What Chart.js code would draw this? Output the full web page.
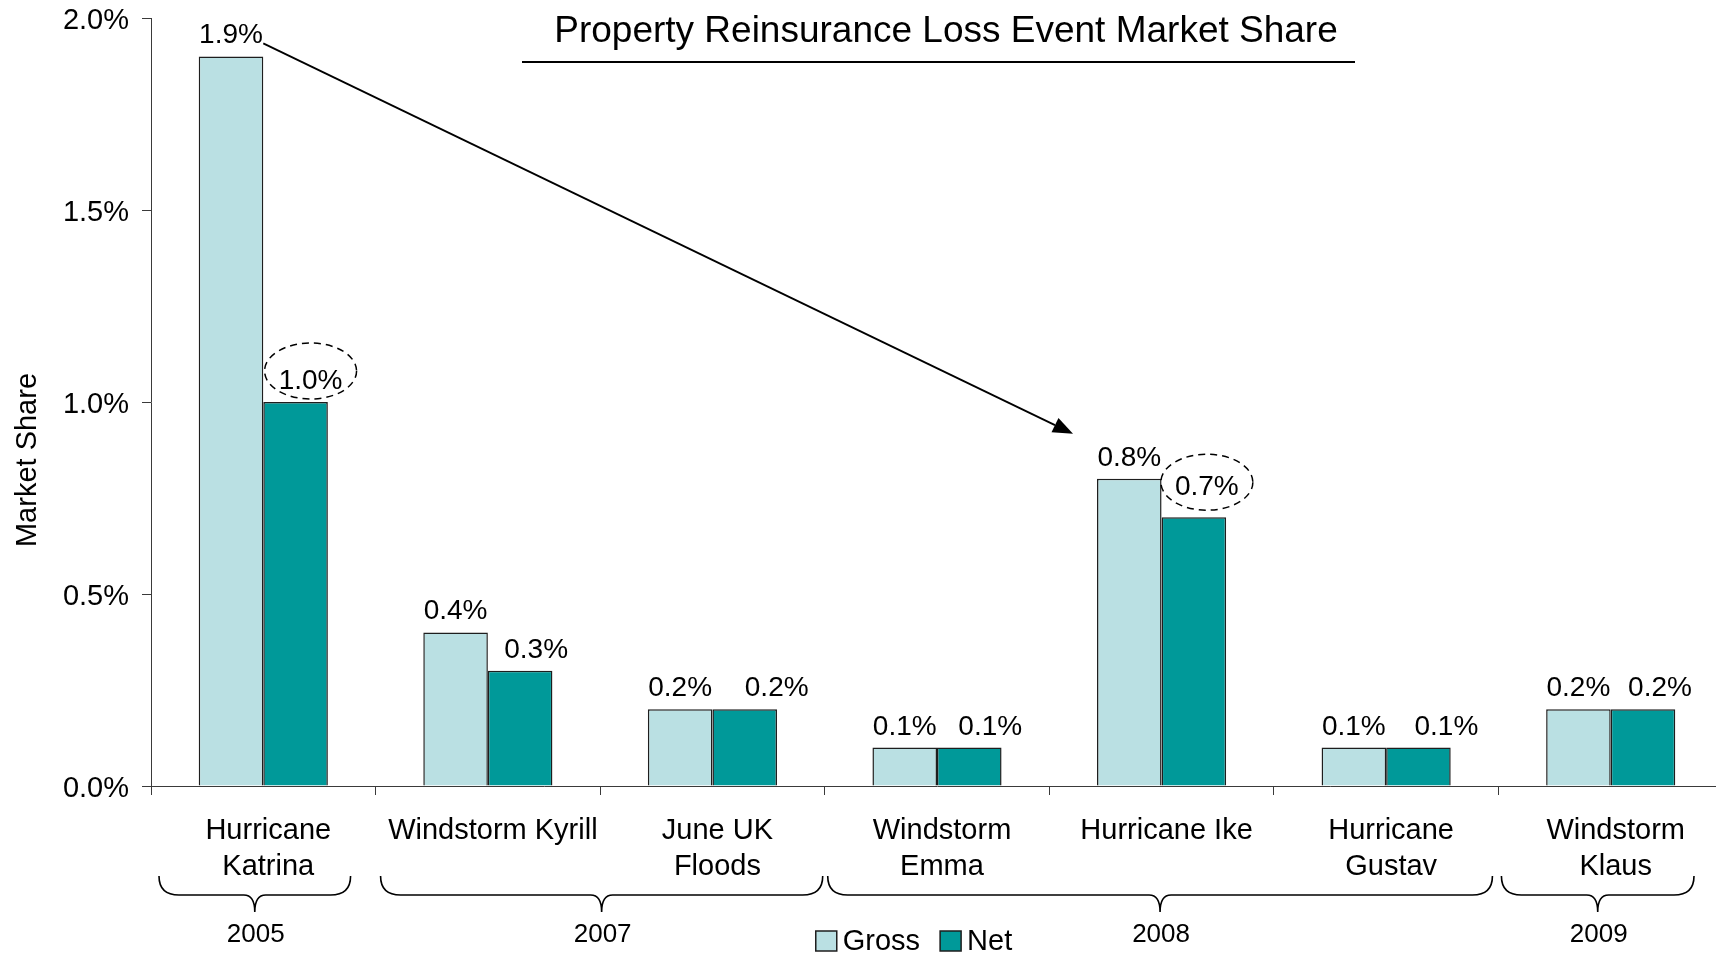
<!DOCTYPE html>
<html><head><meta charset="utf-8">
<script src="https://cdn.jsdelivr.net/npm/chart.js@4.4.1/dist/chart.umd.min.js"></script>
<style>html,body{margin:0;padding:0;background:#fff;overflow:hidden}#wrap{width:1716px;height:959px;position:relative;overflow:hidden}</style>
</head><body><div id="wrap"><canvas id="c" width="1723" height="959"></canvas></div>
<script>
const categories = [['Hurricane','Katrina'], 'Windstorm Kyrill', ['June UK','Floods'], ['Windstorm','Emma'], 'Hurricane Ike', ['Hurricane','Gustav'], ['Windstorm','Klaus']];
const grossShare = [1.9, 0.4, 0.2, 0.1, 0.8, 0.1, 0.2];
const netShare = [1.0, 0.3, 0.2, 0.1, 0.7, 0.1, 0.2];
const yearLabels = ['2005', '2007', '2008', '2009'];
const eventsPerYear = [1, 2, 3, 1];
const circledNet = [0, 4];
const arrowFrom = 0, arrowTo = 4;
const chartTitle = 'Property Reinsurance Loss Event Market Share';
const yTitle = 'Market Share';
const seriesNames = ['Gross', 'Net'];

const FONT = '"Liberation Sans", Arial, Helvetica, sans-serif';
const GROSS_COLOR = '#BAE0E3';
const NET_COLOR = '#009999';
const EDGE = '#1e1e1e';
const AXIS = '#3a3a3a';

const extras = {
  id: 'extras',
  afterDatasetsDraw(chart, args, opts) {
    const ctx = chart.ctx;
    const xs = chart.scales.x;
    const g = chart.getDatasetMeta(0).data;
    const n = chart.getDatasetMeta(1).data;
    ctx.save();
    ctx.fillStyle = '#000';
    ctx.strokeStyle = '#000';
    // value labels
    ctx.font = '28px ' + FONT;
    ctx.textAlign = 'center';
    ctx.textBaseline = 'alphabetic';
    g.forEach((b, i) => ctx.fillText(grossShare[i].toFixed(1) + '%', b.x, b.y - 13));
    n.forEach((b, i) => ctx.fillText(netShare[i].toFixed(1) + '%', b.x + opts.netShift[i], b.y - 13 - opts.netLift[i]));
    // dashed ellipses
    ctx.setLineDash([7, 5]);
    ctx.lineWidth = 1.5;
    circledNet.forEach((i, k) => {
      const b = n[i];
      ctx.beginPath();
      ctx.ellipse(b.x + opts.netShift[i], b.y - opts.ellipseLift[k], 46, 28, 0, 0, Math.PI * 2);
      ctx.stroke();
    });
    ctx.setLineDash([]);
    // arrow
    const a = g[arrowFrom], z = g[arrowTo];
    const x0 = a.x + a.width / 2, y0 = a.y - 13;
    const x1 = z.x - z.width / 2 - 24, y1 = z.y - 45;
    const ang = Math.atan2(y1 - y0, x1 - x0);
    const hl = 20, hw = 8;
    const bx = x1 - hl * Math.cos(ang), by = y1 - hl * Math.sin(ang);
    ctx.lineWidth = 1.8;
    ctx.beginPath(); ctx.moveTo(x0, y0); ctx.lineTo(bx, by); ctx.stroke();
    ctx.beginPath();
    ctx.moveTo(x1, y1);
    ctx.lineTo(bx + hw * Math.sin(ang), by - hw * Math.cos(ang));
    ctx.lineTo(bx - hw * Math.sin(ang), by + hw * Math.cos(ang));
    ctx.closePath(); ctx.fill();
    // title
    ctx.font = '37px ' + FONT;
    ctx.textBaseline = 'middle';
    ctx.fillText(chartTitle, 946, 31.5);
    ctx.lineWidth = 2;
    ctx.beginPath(); ctx.moveTo(522, 62); ctx.lineTo(1355, 62); ctx.stroke();
    // y title
    ctx.save();
    ctx.translate(28, 460);
    ctx.rotate(-Math.PI / 2);
    ctx.font = '29px ' + FONT;
    ctx.fillText(yTitle, 0, 0);
    ctx.restore();
    // braces and years
    const half = (xs.getPixelForValue(1) - xs.getPixelForValue(0)) / 2;
    let start = 0;
    const yt = 876, ym = 895, yb = 912;
    ctx.lineWidth = 1.6;
    ctx.font = '26px ' + FONT;
    eventsPerYear.forEach((cnt, k) => {
      const L = xs.getPixelForValue(start) - half + opts.braceInset[k][0];
      const R = xs.getPixelForValue(start + cnt - 1) + half - opts.braceInset[k][1];
      const C = (L + R) / 2;
      const r = 20, r2 = 11;
      ctx.beginPath();
      ctx.moveTo(L, yt);
      ctx.quadraticCurveTo(L, ym, L + r, ym);
      ctx.lineTo(C - r2, ym);
      ctx.quadraticCurveTo(C, ym, C, yb);
      ctx.quadraticCurveTo(C, ym, C + r2, ym);
      ctx.lineTo(R - r, ym);
      ctx.quadraticCurveTo(R, ym, R, yt);
      ctx.stroke();
      ctx.fillText(yearLabels[k], C + 1, 935);
      start += cnt;
    });
    // legend
    ctx.font = '29px ' + FONT;
    ctx.textAlign = 'left';
    const box = 21, gap = 6, sp = 20;
    const w0 = ctx.measureText(seriesNames[0]).width, w1 = ctx.measureText(seriesNames[1]).width;
    const tot = box + gap + w0 + sp + box + gap + w1;
    let lx = 914 - tot / 2;
    const ly = 941;
    [[seriesNames[0], GROSS_COLOR, w0], [seriesNames[1], NET_COLOR, w1]].forEach(([t, c, w]) => {
      ctx.fillStyle = c;
      ctx.fillRect(lx, ly - 10, box, 20);
      ctx.strokeStyle = EDGE; ctx.lineWidth = 1.5;
      ctx.strokeRect(lx, ly - 10, box, 20);
      ctx.fillStyle = '#000';
      ctx.fillText(t, lx + box + gap, ly + 1);
      lx += box + gap + w + sp;
    });
    ctx.restore();
  }
};

new Chart(document.getElementById('c'), {
  type: 'bar',
  data: {
    labels: categories,
    datasets: [
      { label: seriesNames[0], data: grossShare, backgroundColor: GROSS_COLOR, borderColor: EDGE, borderWidth: 1.5 },
      { label: seriesNames[1], data: netShare, backgroundColor: NET_COLOR, borderColor: EDGE, borderWidth: 1.5 }
    ]
  },
  options: {
    responsive: false,
    devicePixelRatio: 1,
    animation: false,
    categoryPercentage: 0.575,
    barPercentage: 1,
    layout: { padding: { top: 18, left: 0, right: 0, bottom: 0 } },
    plugins: {
      legend: { display: false },
      tooltip: { enabled: false },
      extras: {
        netShift: [15, 16, 32, 21, 13, 28, 17],
        netLift: [0, 0, 0, 0, 9, 0, 0],
        ellipseLift: [31, 35],
        braceInset: [[8, 25], [5, 2], [3, 6], [3, 29]]
      }
    },
    scales: {
      x: {
        offset: true,
        grid: { offset: true, drawOnChartArea: false, tickLength: 9, tickColor: AXIS, color: AXIS },
        border: { display: true, color: AXIS, width: 1 },
        ticks: { color: '#000', font: { family: FONT, size: 29, lineHeight: 1.25 }, padding: 18, labelOffset: 5, maxRotation: 0, autoSkip: false },
        afterFit(s) { s.height = 959 - 786; s.paddingLeft = 0; s.paddingRight = 0; }
      },
      y: {
        min: 0, max: 2,
        grid: { drawOnChartArea: false, tickLength: 9, tickColor: AXIS, color: AXIS },
        border: { display: true, color: AXIS, width: 1 },
        ticks: { stepSize: 0.5, color: '#000', font: { family: FONT, size: 29 }, padding: 13, labelOffset: 3, callback: v => v.toFixed(1) + '%' },
        afterFit(s) { s.width = 151; s.paddingTop = 0; s.paddingBottom = 0; }
      }
    }
  },
  plugins: [extras]
});
</script>
</body></html>
